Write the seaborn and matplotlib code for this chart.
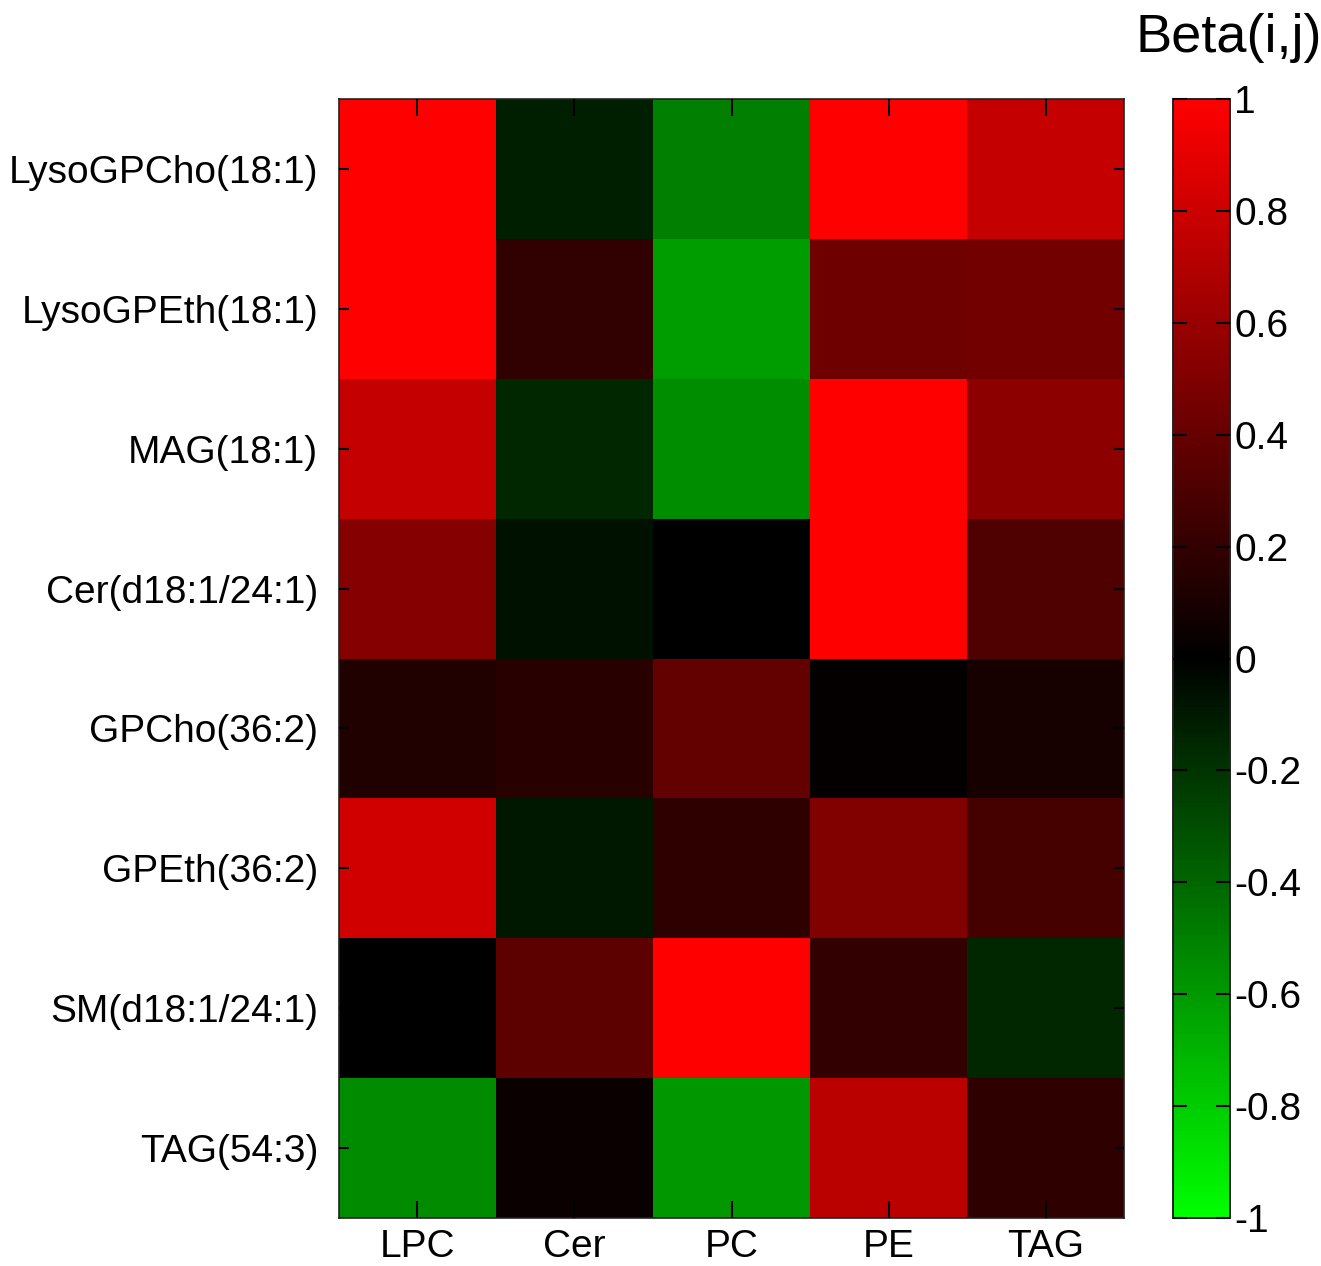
import numpy as np
import pandas as pd
import seaborn as sns
import matplotlib
import matplotlib.pyplot as plt
from matplotlib.colors import LinearSegmentedColormap

matplotlib.use('Agg')

lipids = ["LysoGPCho(18:1)", "LysoGPEth(18:1)", "MAG(18:1)", "Cer(d18:1/24:1)",
          "GPCho(36:2)", "GPEth(36:2)", "SM(d18:1/24:1)", "TAG(54:3)"]
classes = ["LPC", "Cer", "PC", "PE", "TAG"]

lpc = [1.00, 1.00, 0.77, 0.52, 0.13, 0.82, 0.00, -0.54]
cer = [-0.125, 0.19, -0.15, -0.07, 0.16, -0.09, 0.36, 0.04]
pc = [-0.50, -0.61, -0.55, 0.00, 0.39, 0.18, 1.00, -0.59]
pe = [1.00, 0.43, 1.00, 1.00, 0.02, 0.50, 0.20, 0.73]
tag = [0.77, 0.45, 0.55, 0.31, 0.09, 0.27, -0.15, 0.18]

beta = pd.DataFrame({"LPC": lpc, "Cer": cer, "PC": pc, "PE": pe, "TAG": tag},
                    index=lipids)[classes]

sns.set_style("white")
plt.rcParams['font.family'] = ['Liberation Sans', 'DejaVu Sans']
plt.rcParams['text.color'] = 'black'
plt.rcParams['xtick.color'] = 'black'
plt.rcParams['ytick.color'] = 'black'

# green -> black -> red, like MATLAB's redgreencmap
cmap = LinearSegmentedColormap.from_list("redgreen", [(0, 1, 0), (0, 0, 0), (1, 0, 0)], N=256)

fig = plt.figure(figsize=(13.21, 12.66), dpi=100)
ax = fig.add_axes([0.2566, 0.0379, 0.5943, 0.8839])
cax = fig.add_axes([0.888, 0.0379, 0.0431, 0.8839])

sns.heatmap(beta, ax=ax, cbar_ax=cax, cmap=cmap, vmin=-1, vmax=1,
            xticklabels=classes, yticklabels=lipids)

ax.set_axisbelow(False)
cax.set_axisbelow(False)
for sp in ax.spines.values():
    sp.set_visible(True)
    sp.set_color("#222222")
    sp.set_linewidth(1.2)
ax.tick_params(axis="x", direction="in", length=12, width=1.5, top=True, bottom=True,
               labelsize=28, pad=8)
ax.tick_params(axis="y", direction="in", length=7, width=1.5, left=True, right=True,
               labelsize=28, pad=15, rotation=0)
for lbl in ax.get_yticklabels():
    lbl.set_va("center_baseline")
ax.set_xlabel("")
ax.set_ylabel("")

cax.set_yticks(np.arange(-1, 1.01, 0.2))
cax.set_yticklabels(["-1", "-0.8", "-0.6", "-0.4", "-0.2", "0", "0.2", "0.4", "0.6", "0.8", "1"])
cax.tick_params(axis="y", direction="in", length=10, width=1.5, left=True, right=True,
                labelsize=28, pad=3)
for sp in cax.spines.values():
    sp.set_visible(True)
    sp.set_color("#222222")
    sp.set_linewidth(1.2)
cax.set_title("Beta(i,j)", fontsize=39, pad=34, x=0.98)

fig.savefig("out.png", dpi=100)
